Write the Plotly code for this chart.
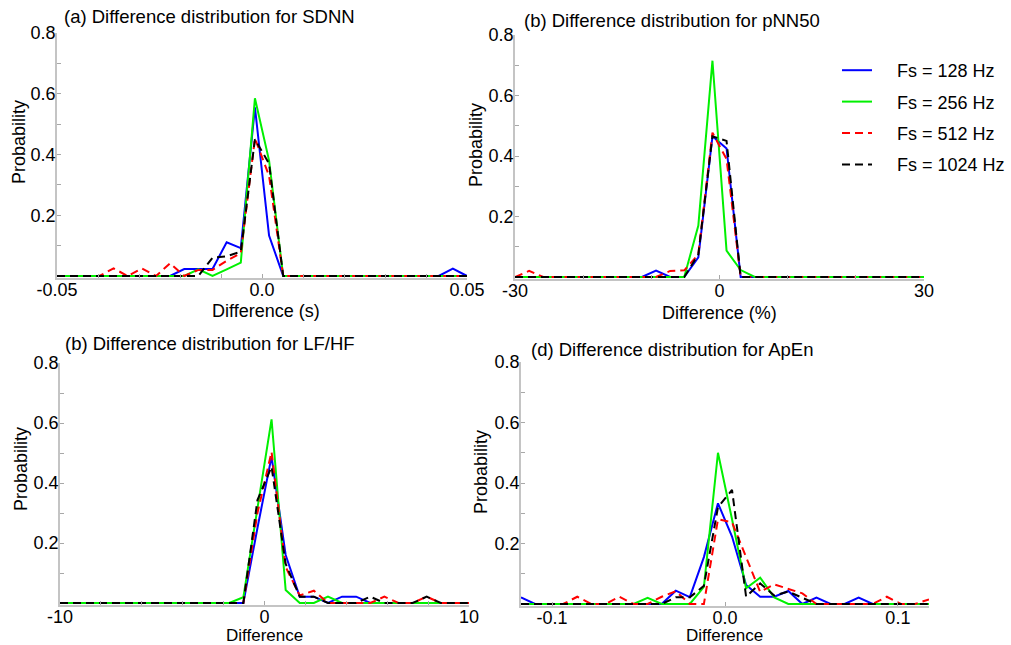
import numpy as np
import plotly.graph_objects as go

W, H = 1011, 645

# Bin centres of the difference histograms (30 bins per measure)
sdnn_x = np.linspace(-0.05, 0.05, 30)
pnn50_x = np.linspace(-30, 30, 30)
lfhf_x = np.linspace(-10, 10, 30)
apen_x = np.linspace(-0.118, 0.118, 30)

# (a) SDNN
sdnn_128 = [0, 0, 0, 0, 0, 0, 0, 0, 0, 0.023, 0.023, 0.023, 0.111, 0.092, 0.555,
            0.133, 0, 0, 0, 0, 0, 0, 0, 0, 0, 0, 0, 0, 0.024, 0]
sdnn_256 = [0, 0, 0, 0, 0, 0, 0, 0, 0, 0, 0.022, 0, 0.022, 0.044, 0.585,
            0.38, 0, 0, 0, 0, 0, 0, 0, 0, 0, 0, 0, 0, 0, 0]
sdnn_512 = [0, 0, 0, 0, 0.025, 0, 0.025, 0, 0.042, 0, 0.02, 0.02, 0.05, 0.075, 0.453,
            0.33, 0, 0, 0, 0, 0, 0, 0, 0, 0, 0, 0, 0, 0, 0]
sdnn_1024 = [0, 0, 0, 0, 0, 0, 0, 0, 0, 0, 0, 0.06, 0.065, 0.08, 0.45,
             0.37, 0, 0, 0, 0, 0, 0, 0, 0, 0, 0, 0, 0, 0, 0]

# (b) pNN50
pnn50_128 = [0, 0, 0, 0, 0, 0, 0, 0, 0, 0, 0.021, 0, 0, 0.065, 0.465,
             0.425, 0, 0, 0, 0, 0, 0, 0, 0, 0, 0, 0, 0, 0, 0]
pnn50_256 = [0, 0, 0, 0, 0, 0, 0, 0, 0, 0, 0, 0, 0, 0.17, 0.715,
             0.087, 0.023, 0, 0, 0, 0, 0, 0, 0, 0, 0, 0, 0, 0, 0]
pnn50_512 = [0, 0.02, 0, 0, 0, 0, 0, 0, 0, 0, 0, 0.02, 0.022, 0.075, 0.477,
             0.39, 0, 0, 0, 0, 0, 0, 0, 0, 0, 0, 0, 0, 0, 0]
pnn50_1024 = [0, 0, 0, 0, 0, 0, 0, 0, 0, 0, 0, 0, 0, 0.075, 0.465,
              0.45, 0, 0, 0, 0, 0, 0, 0, 0, 0, 0, 0, 0, 0, 0]

# (c) LF/HF
lfhf_128 = [0, 0, 0, 0, 0, 0, 0, 0, 0, 0, 0, 0, 0, 0, 0.25,
            0.488, 0.16, 0.021, 0.021, 0, 0.021, 0.021, 0, 0, 0, 0, 0, 0, 0, 0]
lfhf_256 = [0, 0, 0, 0, 0, 0, 0, 0, 0, 0, 0, 0, 0, 0.019, 0.32,
            0.612, 0.043, 0, 0, 0.021, 0, 0, 0, 0, 0, 0, 0, 0, 0, 0]
lfhf_512 = [0, 0, 0, 0, 0, 0, 0, 0, 0, 0, 0, 0, 0, 0, 0.30,
            0.504, 0.12, 0.025, 0.041, 0, 0, 0, 0, 0.021, 0, 0, 0.021, 0, 0, 0]
lfhf_1024 = [0, 0, 0, 0, 0, 0, 0, 0, 0, 0, 0, 0, 0, 0, 0.343,
             0.454, 0.13, 0.021, 0.021, 0, 0, 0, 0.021, 0, 0, 0, 0.021, 0, 0, 0]

# (d) ApEn
apen_128 = [0.022, 0, 0, 0, 0, 0, 0, 0, 0, 0, 0, 0.044, 0.023, 0.155, 0.333,
            0.223, 0.063, 0.024, 0.024, 0.043, 0, 0.021, 0, 0, 0.021, 0, 0, 0, 0, 0]
apen_256 = [0, 0, 0, 0, 0, 0, 0, 0, 0, 0.02, 0, 0, 0, 0.057, 0.50,
            0.28, 0.052, 0.087, 0.022, 0, 0, 0, 0, 0, 0, 0, 0, 0, 0, 0]
apen_512 = [0, 0, 0, 0, 0.024, 0, 0, 0.024, 0, 0, 0.024, 0.042, 0, 0, 0.28,
            0.27, 0.155, 0.04, 0.065, 0.05, 0.035, 0, 0, 0, 0, 0, 0.024, 0, 0, 0.015]
apen_1024 = [0, 0, 0, 0, 0, 0, 0, 0, 0, 0, 0, 0.022, 0.022, 0.06, 0.32,
             0.377, 0.024, 0.068, 0.028, 0.041, 0.02, 0, 0, 0, 0, 0, 0, 0, 0, 0]

series_names = ["Fs = 128 Hz", "Fs = 256 Hz", "Fs = 512 Hz", "Fs = 1024 Hz"]
series_colors = ["#0000ff", "#00f000", "#ff0000", "#000000"]
series_dash = ["solid", "solid", "8px,5px", "8px,5px"]

panels = [
    dict(x=sdnn_x, ys=[sdnn_128, sdnn_256, sdnn_512, sdnn_1024],
         title="(a) Difference distribution for SDNN", xtitle="Difference (s)",
         xr=[-0.05, 0.05], tickvals=[round(-0.05 + 0.01 * i, 2) for i in range(11)],
         ticktext=["-0.05", "", "", "", "", "0.0", "", "", "", "", "0.05"],
         box=(57, 467, 276, 33), title_xy=(62, 17), xtitle_xy=(266, 311),
         xtitle_size=18, ytitle_xy=(19, 142)),
    dict(x=pnn50_x, ys=[pnn50_128, pnn50_256, pnn50_512, pnn50_1024],
         title="(b) Difference distribution for pNN50", xtitle="Difference (%)",
         xr=[-30, 30], tickvals=[-30, -20, -10, 0, 10, 20, 30],
         ticktext=["-30", "", "", "0", "", "", "30"],
         box=(515, 924, 277, 35), title_xy=(522, 20), xtitle_xy=(719, 313),
         xtitle_size=18, ytitle_xy=(476, 145)),
    dict(x=lfhf_x, ys=[lfhf_128, lfhf_256, lfhf_512, lfhf_1024],
         title="(b) Difference distribution for LF/HF", xtitle="Difference",
         xr=[-10, 10], tickvals=list(range(-10, 11, 2)),
         ticktext=["-10", "", "", "", "", "0", "", "", "", "", "10"],
         box=(60, 469, 603, 363), title_xy=(63, 343), xtitle_xy=(264, 635),
         xtitle_size=17, ytitle_xy=(21, 469)),
    dict(x=apen_x, ys=[apen_128, apen_256, apen_512, apen_1024],
         title="(d) Difference distribution for ApEn", xtitle="Difference",
         xr=[-0.118, 0.118], tickvals=[-0.1, 0.0, 0.1],
         ticktext=["-0.1", "0.0", "0.1"],
         box=(521, 929, 604, 362), title_xy=(529, 349), xtitle_xy=(724, 635),
         xtitle_size=17, ytitle_xy=(481, 472)),
]

FONT = "Arial, 'Liberation Sans', sans-serif"
AXIS_GREY = "#c4c4c4"
TICK_GREY = "#a8a8a8"
Y_LOW = -0.005

fig = go.Figure()
layout = dict(
    width=W, height=H,
    margin=dict(l=0, r=0, t=0, b=0, pad=0, autoexpand=False),
    paper_bgcolor="white", plot_bgcolor="white",
    font=dict(family=FONT, size=18, color="black"),
    showlegend=True,
    legend=dict(x=837 / W, y=1 - 52 / H, xanchor="left", yanchor="top",
                font=dict(family=FONT, size=18, color="black"),
                bgcolor="rgba(0,0,0,0)", tracegroupgap=5, itemwidth=30),
    annotations=[],
)

for i, p in enumerate(panels):
    n = "" if i == 0 else str(i + 1)
    xa, ya = "x" + n, "y" + n
    x0, x1, y0px, y8px = p["box"]
    per_unit = (y0px - y8px) / 0.8
    bottom_px = y0px - Y_LOW * per_unit
    for s in range(4):
        fig.add_trace(go.Scatter(
            x=p["x"], y=p["ys"][s], mode="lines", xaxis=xa, yaxis=ya,
            name="\u00a0\u00a0\u00a0\u00a0" + series_names[s],
            legendgroup=series_names[s], showlegend=(i == 1),
            line=dict(color=series_colors[s], width=2, dash=series_dash[s]),
        ))
    layout["xaxis" + n] = dict(
        domain=[x0 / W, x1 / W], anchor=ya, range=p["xr"], automargin=False,
        tickmode="array", tickvals=p["tickvals"], ticktext=p["ticktext"],
        ticks="inside", ticklen=4, tickwidth=1, tickcolor=TICK_GREY,
        showline=True, linecolor=AXIS_GREY, linewidth=1.5,
        showgrid=False, zeroline=False, ticklabelstandoff=-5,
        tickfont=dict(size=18, color="black"),
    )
    layout["yaxis" + n] = dict(
        domain=[1 - bottom_px / H, 1 - y8px / H], anchor=xa, range=[Y_LOW, 0.8],
        automargin=False,
        tickmode="array", tickvals=[0.1, 0.2, 0.3, 0.4, 0.5, 0.6, 0.7, 0.8],
        ticktext=["", "0.2", "", "0.4", "", "0.6", "", "0.8"],
        ticks="inside", ticklen=4, tickwidth=1, tickcolor=TICK_GREY,
        showline=True, linecolor=AXIS_GREY, linewidth=1.5,
        showgrid=False, zeroline=False, ticklabelstandoff=-4,
        tickfont=dict(size=18, color="black"),
    )
    tx, ty = p["title_xy"]
    layout["annotations"].append(dict(
        text=p["title"], x=tx / W, y=1 - ty / H, xref="paper", yref="paper",
        xanchor="left", yanchor="middle", showarrow=False,
        font=dict(size=18.5, family=FONT, color="black")))
    ax_, ay_ = p["xtitle_xy"]
    layout["annotations"].append(dict(
        text=p["xtitle"], x=ax_ / W, y=1 - ay_ / H, xref="paper", yref="paper",
        xanchor="center", yanchor="middle", showarrow=False,
        font=dict(size=p["xtitle_size"], family=FONT, color="black")))
    px_, py_ = p["ytitle_xy"]
    layout["annotations"].append(dict(
        text="Probability", x=px_ / W, y=1 - py_ / H, xref="paper", yref="paper",
        xanchor="center", yanchor="middle", showarrow=False, textangle=-90,
        font=dict(size=18, family=FONT, color="black")))

fig.update_layout(**layout)
fig.write_html("out.html")
